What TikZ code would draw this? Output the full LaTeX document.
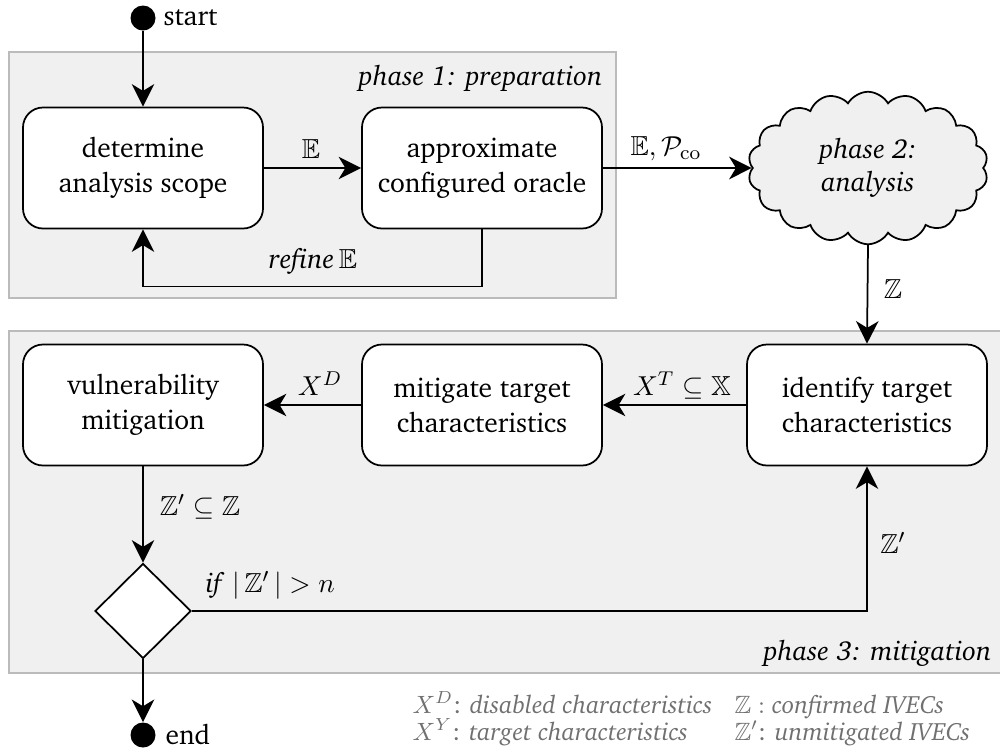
\documentclass[tikz,border=0pt]{standalone}
\usepackage[T1]{fontenc}
\usepackage{charter}
\usepackage{amssymb}
\usetikzlibrary{shapes.geometric,shapes.symbols,arrows.meta}
\definecolor{phasebg}{HTML}{F0F0F0}
\definecolor{phaseline}{HTML}{BBBBBB}
\definecolor{legendgray}{HTML}{707070}
\begin{document}
\begin{tikzpicture}[x=0.4pt,y=-0.4pt,
  font=\fontsize{11}{14}\selectfont,
  stepbox/.style={draw, line width=0.7pt, rounded corners=8pt, fill=white,
    minimum width=96pt, minimum height=48.4pt, align=center, inner sep=0pt},
  arr/.style={-{Stealth[length=9pt,width=9pt,inset=2.7pt]}, line width=0.7pt},
  lbl/.style={inner sep=0pt, anchor=base},
  phase/.style={fill=phasebg, draw=phaseline, line width=0.5pt},
  dot/.style={circle, fill=black, minimum size=10pt, inner sep=0pt},
  leg/.style={text=legendgray, inner sep=0pt, anchor=base west,
    font=\fontsize{10}{11}\selectfont}]
\useasboundingbox (0,0) rectangle (1000,755);

% phase frames
\draw[phase] (9,52) rectangle (616,298);
\draw[phase] (9,331) rectangle (1010,673);
\node[lbl, anchor=base east] (ph1) at (603,85) {\textit{phase 1: preparation}};
\node[lbl, anchor=base east] (ph3) at (992,660) {\textit{phase 3: mitigation}};

% start / end
\node[dot] (start) at (143,18) {};
\node[lbl, anchor=base west] (starttxt) at (163,25) {start};
\node[dot] (end) at (143,735) {};
\node[lbl, anchor=base west] (endtxt) at (165,744) {end};

% phase 1 boxes
\node[stepbox] (b1) at (143,168) {determine\\analysis scope};
\node[stepbox] (b2) at (482,168) {approximate\\configured oracle};

% phase 2 cloud
\node[cloud, cloud puffs=18, cloud puff arc=120, draw, line width=0.7pt, fill=phasebg,
  minimum width=96pt, minimum height=61pt, inner sep=0pt, align=center,
  font=\fontsize{11}{13}\selectfont] (cl) at (868,168)
  {\textit{phase 2:}\\\textit{analysis}};

% phase 3 boxes
\node[stepbox] (b4) at (143,405) {vulnerability\\mitigation};
\node[stepbox] (b5) at (482,405) {mitigate target\\characteristics};
\node[stepbox] (b6) at (867,405) {identify target\\characteristics};
\node[diamond, draw, line width=0.7pt, fill=white, minimum width=38.4pt,
  minimum height=38pt, inner sep=0pt] (dia) at (143,611) {};

% connectors
\draw[arr] (start) -- (b1);
\draw[arr] (b1) -- (b2);
\draw[arr] (b2.south) -- ++(0,57) -| (b1.south);
\draw[arr] (b2.east) -- (cl.west);
\draw[arr] (cl.south) -- (b6.north);
\draw[arr] (b6) -- (b5);
\draw[arr] (b5) -- (b4);
\draw[arr] (b4) -- (dia);
\draw[arr] (dia.east) -| (b6.south);
\draw[arr] (dia) -- (end);

% labels
\node[lbl] (lE) at (311,158) {$\mathbb{E}$};
\node[lbl] (lref) at (313,268) {\textit{refine}\,$\mathbb{E}$};
\node[lbl] (lEP) at (666,155) {$\mathbb{E}, \mathcal{P}_{\mathrm{co}}$};
\node[lbl] (lZ) at (893,298) {$\mathbb{Z}$};
\node[lbl] (lXT) at (682,395) {$X^T \subseteq \mathbb{X}$};
\node[lbl] (lXD) at (320,395) {$X^D$};
\node[lbl] (lZZ) at (200,515) {$\mathbb{Z}' \subseteq \mathbb{Z}$};
\node[lbl, anchor=base west] (lif) at (205,592) {\textit{if}\;$|\,\mathbb{Z}'\,| > n$};
\node[lbl] (lZp) at (893,553) {$\mathbb{Z}'$};

% legend
\node[leg] (l1) at (412,713) {$X^D$: \textit{disabled characteristics}};
\node[leg] (l2) at (412,740) {$X^Y$: \textit{target characteristics}};
\node[leg] (l3) at (734,713) {$\mathbb{Z}:$ \textit{confirmed IVECs}};
\node[leg] (l4) at (734,740) {$\mathbb{Z}'$: \textit{unmitigated IVECs}};
\end{tikzpicture}
\end{document}
